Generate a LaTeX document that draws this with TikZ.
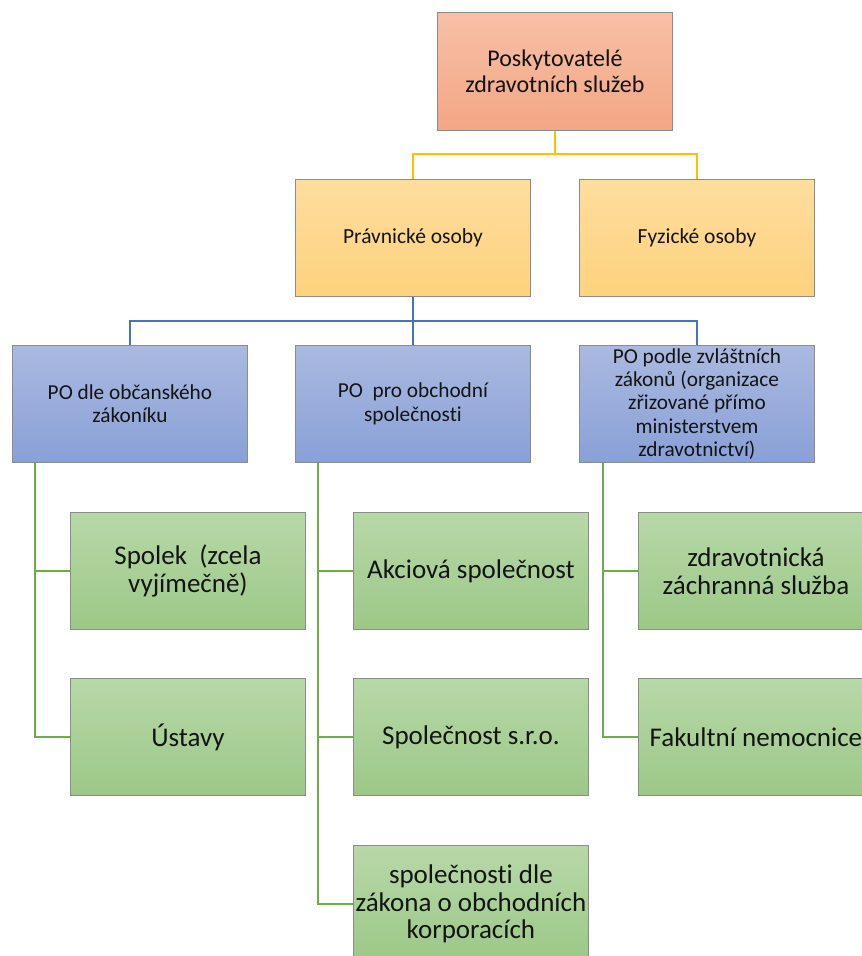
\documentclass[tikz,border=0pt]{standalone}
\usepackage{fontspec}
\setmainfont{Carlito}[Ligatures={NoCommon}]
\usetikzlibrary{positioning}
\definecolor{orT}{RGB}{247,192,166}
\definecolor{orB}{RGB}{243,166,132}
\definecolor{yeT}{RGB}{254,221,158}
\definecolor{yeB}{RGB}{254,210,125}
\definecolor{blT}{RGB}{170,185,224}
\definecolor{blB}{RGB}{137,160,215}
\definecolor{grT}{RGB}{183,216,168}
\definecolor{grB}{RGB}{156,200,135}
\definecolor{lnY}{RGB}{255,192,0}
\definecolor{lnB}{RGB}{68,114,196}
\definecolor{lnG}{RGB}{112,173,71}
\definecolor{edge}{RGB}{140,140,140}
\tikzset{
  box/.style={draw=edge, line width=0.9pt, anchor=north west, minimum width=235pt,
    minimum height=117pt, align=center, inner xsep=2pt, inner ysep=0.5pt, text=black!92},
  orbox/.style={box, top color=orT, bottom color=orB, minimum height=118pt,
    font=\fontsize{24}{26.5}\selectfont},
  yebox/.style={box, top color=yeT, bottom color=yeB, font=\fontsize{21.5}{24}\selectfont},
  blbox/.style={box, top color=blT, bottom color=blB, font=\fontsize{21.3}{23.3}\selectfont},
  grbox/.style={box, top color=grT, bottom color=grB, font=\fontsize{27}{27.8}\selectfont},
  yline/.style={draw=lnY, line width=2pt},
  bline/.style={draw=lnB, line width=2pt},
  gline/.style={draw=lnG, line width=2.2pt},
}
\begin{document}
\begin{tikzpicture}[x=1pt,y=-1pt]
\useasboundingbox (0,0) rectangle (862,956);
\clip (0,0) rectangle (862,956);
\node[orbox] (top) at (437,12) {Poskytovatelé\\zdravotních služeb};
\node[yebox] (prav) at (295,179) {Právnické osoby};
\node[yebox] (fyz) at (579,179) {Fyzické osoby};
\node[blbox] (po1) at (12,345) {PO dle občanského\\zákoníku};
\node[blbox] (po2) at (295,345) {PO\ \ pro obchodní\\společnosti};
\node[blbox] (po3) at (579,345) {PO podle zvláštních\\zákonů (organizace\\zřizované přímo\\ministerstvem\\zdravotnictví)};
\node[grbox] (g11) at (70,512) {Spolek\ \ (zcela\\vyjímečně)};
\node[grbox] (g12) at (70,678) {Ústavy};
\node[grbox] (g21) at (353,512) {Akciová společnost};
\node[grbox] (g22) at (353,678) {Společnost s.r.o.};
\node[grbox] (g23) at (353,845) {společnosti dle\\zákona o obchodních\\korporacích};
\node[grbox] (g31) at (638,512) {zdravotnická\\záchranná služba};
\node[grbox] (g32) at (638,678) {Fakultní nemocnice};
% yellow connectors
\coordinate (yj) at (top.south |- 0,154);
\draw[yline] (top.south) -- (yj);
\draw[yline] (prav.north) |- (yj) -| (fyz.north);
% blue connectors
\coordinate (bj) at (prav.south |- 0,321);
\draw[bline] (prav.south) -- (po2.north);
\draw[bline] (po1.north) |- (bj) -| (po3.north);
% green connectors
\coordinate (c1) at ([xshift=23pt]po1.south west);
\coordinate (c2) at ([xshift=23pt]po2.south west);
\coordinate (c3) at ([xshift=24pt]po3.south west);
\draw[gline] (c1) |- (g11.west);
\draw[gline] (c1) |- (g12.west);
\draw[gline] (c2) |- (g21.west);
\draw[gline] (c2) |- (g22.west);
\draw[gline] (c2) |- (g23.west);
\draw[gline] (c3) |- (g31.west);
\draw[gline] (c3) |- (g32.west);
\end{tikzpicture}
\end{document}
